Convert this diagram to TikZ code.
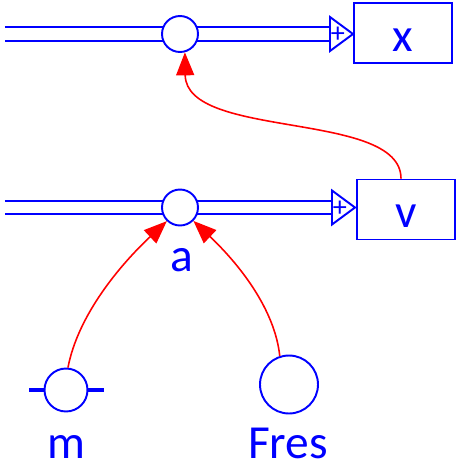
\documentclass[tikz,border=0pt]{standalone}
\usepackage{fontspec}
\setmainfont{Carlito}
\usepackage{tikz}
\usetikzlibrary{arrows.meta, calc}

\begin{document}
\begin{tikzpicture}[x=0.02cm, y=-0.02cm,
    every node/.style={text=blue, font=\fontsize{27}{30}\selectfont},
    pipe/.style={draw=blue, line width=1.1pt, double=white, double distance=6.8pt},
    valve/.style={draw=blue, fill=white, circle, line width=1.1pt, minimum size=0.72cm, inner sep=0pt},
    stock/.style={draw=blue, line width=1.1pt, minimum width=1.96cm, minimum height=1.2cm, text height=0.72cm},
    inflow/.style={draw=blue, fill=white, line width=1.1pt},
    plus/.style={font=\fontsize{16}{16}\selectfont, inner sep=0pt},
    link/.style={draw=red, line width=0.9pt, -{Triangle[length=0.46cm, width=0.36cm]}}]

        \useasboundingbox (0,0) rectangle (460,468);

        % ------------------ Position x ------------------

        \coordinate (xsrc) at (5,34);
        \coordinate (xtri) at (330,34);
        \draw[pipe] (xsrc) -- (xtri);
        \draw[inflow] (xtri) ++(0,-17) -- ++(23,17) -- ++(-23,17) -- cycle;
        \node[plus] (xplus) at (338,35) {+};
        \node[valve] (xvalve) at (180,34) {};
        \node[stock] (xbox) at (403,33) {x};

        % ------------------ Velocity v ------------------

        \coordinate (vsrc) at (5,207.5);
        \coordinate (vtri) at (332,207.5);
        \draw[pipe] (vsrc) -- (vtri);
        \draw[inflow] (vtri) ++(0,-17) -- ++(23,17) -- ++(-23,17) -- cycle;
        \node[plus] (vplus) at (340,208.5) {+};
        \node[valve] (vvalve) at (180,207.5) {};
        \node[anchor=base, inner sep=0pt] (alab) at (182,271) {a};
        \node[stock] (vbox) at (406,209.5) {v};

        % ------------------ Converters ------------------

        \node[valve, minimum size=0.86cm] (m) at (66,390) {};
        \draw[blue, line width=2.6pt] (m.west) -- ++(-15,0);
        \draw[blue, line width=2.6pt] (m.east) -- ++(16,0);
        \node[anchor=base, inner sep=0pt] (mlab) at (66,458) {m};

        \node[valve, minimum size=1.16cm] (fres) at (289,384.5) {};
        \node[anchor=base, inner sep=0pt] (freslab) at (288,458) {Fres};

        % Links
        \draw[link] ($(vbox.north)+(-5,0)$) .. controls (401,110) and (186,140) .. (xvalve.-75);
        \draw[link] (m.85) .. controls (78,315) and (120,265) .. (vvalve.226);
        \draw[link] (fres.108) .. controls (275,310) and (240,265) .. (vvalve.-45);

\end{tikzpicture}
\end{document}
